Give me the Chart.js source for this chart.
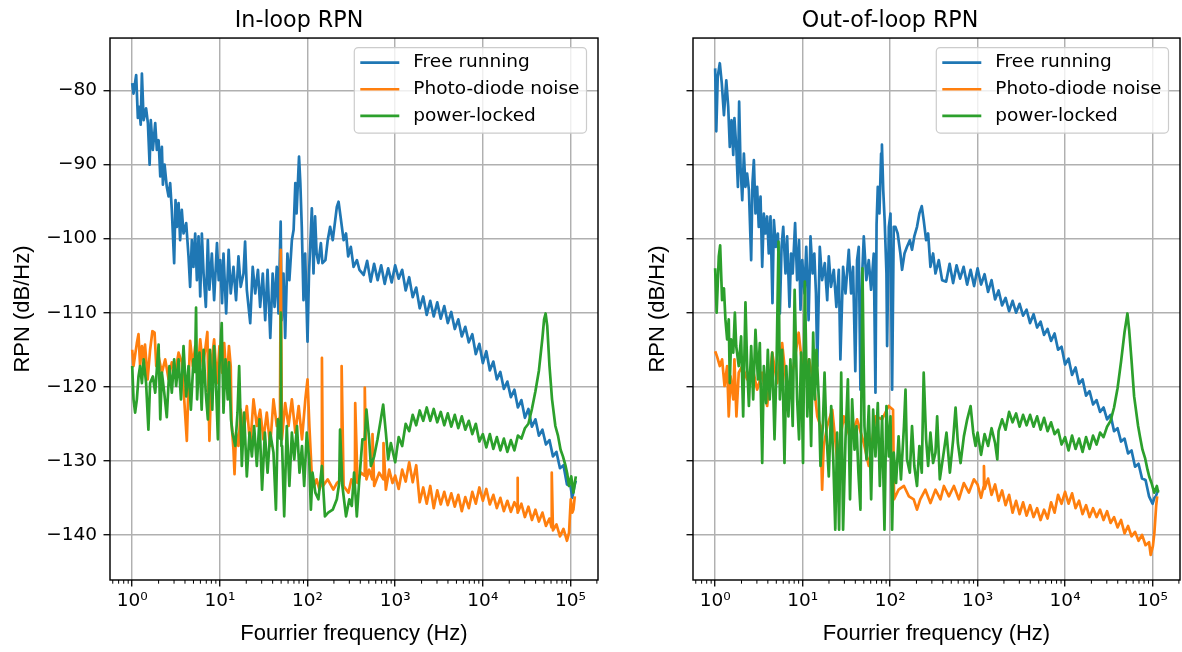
<!DOCTYPE html>
<html>
<head>
<meta charset="utf-8">
<script src="https://cdn.jsdelivr.net/npm/chart.js@4.4.0/dist/chart.umd.min.js"></script>
<style>
  body { margin: 0; background: #fff; }
  #wrap { position: relative; width: 1182px; height: 652px; }
  canvas { position: absolute; top: 0; }
</style>
</head>
<body>
<div id="wrap">
  <canvas id="inLoop" width="600" height="652" style="left:0"></canvas>
  <canvas id="outLoop" width="582" height="652" style="left:600px"></canvas>
</div>
<script>
// axis ranges and ticks
const xMin = 0.558, xMax = 2.06e5;
const yMin = -146.1, yMax = -72.9;
const xTickVals = [1, 10, 100, 1000, 10000, 100000];
const xTickLabels = ['10\u2070', '10\u00b9', '10\u00b2', '10\u00b3', '10\u2074', '10\u2075'];
const yTickVals = [-140, -130, -120, -110, -100, -90, -80];

const seriesNames = ['Free running', 'Photo-diode noise', 'power-locked'];
const seriesColors = ['#1f77b4', '#ff7f0e', '#2ca02c'];

// In-loop RPN  [frequency Hz, dB/Hz]
const inLoopFree = [[1,-79.0],[1.035,-80.4],[1.11,-77.9],[1.16,-83.7],[1.2,-82.2],[1.25,-84.6],[1.29,-77.7],[1.35,-84.0],[1.44,-82.4],[1.51,-84.4],[1.58,-90.0],[1.63,-84.0],[1.72,-88.0],[1.83,-84.4],[1.91,-88.0],[2.0,-86.7],[2.09,-91.6],[2.18,-87.6],[2.24,-92.7],[2.34,-90.0],[2.48,-93.0],[2.6,-94.3],[2.71,-92.5],[2.83,-96.1],[3.01,-103.3],[3.12,-94.8],[3.23,-98.4],[3.38,-95.2],[3.52,-100.2],[3.68,-96.1],[3.85,-99.3],[4.13,-97.9],[4.39,-102.4],[4.58,-106.5],[4.79,-100.2],[5.0,-103.8],[5.23,-99.3],[5.47,-105.6],[5.71,-99.7],[5.97,-107.8],[6.23,-99.3],[6.52,-104.7],[6.92,-109.2],[7.29,-100.2],[7.6,-106.9],[8.1,-102.0],[8.6,-108.3],[9.27,-100.6],[9.7,-105.6],[10.1,-102.9],[10.6,-108.7],[11.0,-102.0],[11.8,-110.1],[12.6,-101.5],[13.3,-107.4],[14.3,-103.8],[15.3,-108.3],[16.3,-102.4],[17.3,-106.5],[18.6,-104.7],[19.4,-100.4],[20.3,-106.9],[22.2,-111.4],[23.7,-103.8],[25.3,-107.4],[27.2,-104.2],[28.8,-109.2],[30.9,-104.7],[32.9,-111.0],[35.0,-104.2],[37.6,-113.4],[40.0,-104.7],[42.1,-109.2],[44.6,-103.8],[46.6,-110.1],[49.4,-97.7],[50.8,-111.0],[53.2,-104.7],[55.6,-113.4],[59.0,-102.0],[62.1,-105.6],[66.3,-100.2],[69.4,-98.8],[72.6,-92.5],[75.0,-96.6],[80,-88.9],[82.8,-92.5],[86.0,-98.4],[90.0,-108.3],[94.0,-102.0],[100,-113.9],[104,-104.7],[112,-95.9],[117,-104.7],[122,-97.0],[127,-102.0],[133,-103.3],[142,-100.6],[148,-103.3],[160,-102.9],[170,-100.2],[181,-98.4],[194,-100.2],[207,-97.5],[216,-95.7],[226,-95.0],[238,-97.0],[258,-100.2],[275,-99.3],[291,-102.4],[312,-101.1],[335,-103.8],[366,-102.9],[391,-104.2],[437,-104.9],[479,-103.0],[525,-105.8],[575,-103.4],[631,-105.6],[692,-103.6],[759,-106.1],[832,-104.0],[912,-105.9],[1000,-103.6],[1096,-105.4],[1202,-104.2],[1318,-107.0],[1445,-105.2],[1585,-107.9],[1738,-106.6],[1905,-109.4],[2089,-107.8],[2291,-110.3],[2512,-108.4],[2754,-110.5],[3020,-108.6],[3311,-110.8],[3631,-109.1],[3981,-111.4],[4365,-109.9],[4786,-112.2],[5248,-110.9],[5754,-113.2],[6310,-111.9],[6918,-114.0],[7586,-112.9],[8318,-115.6],[9120,-114.2],[10000,-116.8],[10960,-115.2],[12020,-117.8],[13180,-116.6],[14450,-119.0],[15850,-118.0],[17380,-120.3],[19050,-119.3],[20890,-121.4],[22910,-120.4],[25120,-122.8],[27540,-121.8],[30200,-124.2],[33110,-123.0],[36310,-125.4],[39810,-124.4],[43650,-126.6],[47860,-125.8],[52480,-127.8],[57540,-127.2],[63100,-129.4],[69180,-128.8],[75860,-131.0],[83180,-130.6],[91200,-133.2],[100000,-133.4],[105000,-135.0],[110000,-133.6],[115000,-132.7]];

const inLoopPd = [[1,-115],[1.035,-117.2],[1.13,-114.1],[1.18,-112.9],[1.23,-117.2],[1.29,-114.5],[1.35,-116.3],[1.4,-114.3],[1.5,-119],[1.6,-115],[1.7,-112.5],[1.8,-112.7],[1.88,-117.2],[2.0,-115.9],[2.18,-118.1],[2.38,-116.3],[2.6,-119],[2.83,-116.7],[3.1,-118.1],[3.38,-115.4],[3.68,-116.7],[3.92,-121.7],[4.2,-127.3],[4.39,-119.5],[4.58,-113.8],[4.92,-117.2],[5.23,-114.5],[5.55,-118.6],[5.97,-113.6],[6.4,-117.2],[6.8,-115],[7.2,-112.6],[7.6,-127.3],[8.1,-116.3],[8.6,-113.6],[9.27,-119.5],[9.9,-114.5],[10.6,-118.1],[11.2,-114.1],[12.0,-119.5],[12.7,-114.5],[13.3,-117.2],[13.6,-124.9],[14.3,-128.5],[14.7,-131.8],[15.3,-126.2],[16.3,-128],[17.3,-123.1],[18.6,-126.2],[20.3,-122.6],[22.2,-128],[24.2,-121.7],[26.4,-125.3],[28.8,-123.1],[31.4,-127.1],[34.3,-123.5],[37.5,-128],[40.9,-121.7],[44.6,-125.3],[48.5,-124],[49.5,-101.5],[51,-127.1],[55.6,-122.2],[60.7,-125.3],[66.3,-121.7],[72.6,-126.2],[79.3,-122.6],[86.5,-127.1],[94.4,-121.7],[100,-119],[105,-125.3],[112,-132.1],[119,-133.4],[127,-132.5],[137,-133.9],[144,-133],[146,-116.1],[150,-133.4],[170,-132.5],[197,-133.9],[216,-133],[243,-132.5],[245,-117.2],[258,-133.4],[293,-134.3],[317,-132.5],[347,-133],[350,-122.2],[372,-133],[406,-131.6],[447,-132],[450,-120.1],[470,-132.5],[505,-131.2],[548,-132.5],[551,-126.4],[576,-133.4],[657,-131.6],[733,-132.5],[736,-127.6],[783,-133.9],[854,-131.2],[932,-133],[1000,-132.0],[1096,-133.8],[1202,-131.2],[1318,-132.8],[1445,-130.2],[1585,-132.9],[1738,-130.6],[1905,-135.6],[2089,-133.6],[2291,-135.8],[2512,-133.4],[2754,-136.4],[3020,-134.0],[3311,-135.9],[3631,-134.2],[3981,-136.0],[4365,-134.4],[4786,-136.2],[5248,-134.6],[5754,-136.8],[6310,-134.9],[6918,-136.4],[7586,-134.2],[8318,-135.8],[9120,-133.6],[10000,-135.4],[10960,-133.8],[12020,-135.9],[13180,-134.6],[14450,-136.4],[15850,-135.0],[17380,-136.8],[19050,-135.4],[20890,-136.9],[22910,-135.6],[24700,-136.4],[24850,-132.3],[25120,-137.0],[27540,-135.8],[30200,-137.6],[33110,-136.2],[36310,-138.0],[39810,-136.6],[43650,-138.2],[47860,-137.0],[52480,-138.8],[57540,-137.8],[60800,-139.0],[61130,-131.6],[63100,-139.4],[69180,-138.6],[75860,-140.2],[83180,-139.2],[91200,-140.8],[96300,-139.7],[100700,-135.2],[105000,-137.0],[108000,-136.6],[112000,-134.8]];

const inLoopLock = [[1,-117.2],[1.035,-121.7],[1.08,-123.5],[1.13,-121.7],[1.18,-118.6],[1.23,-117.2],[1.29,-119.5],[1.35,-116.3],[1.44,-119.5],[1.53,-125.8],[1.6,-119.5],[1.72,-118.6],[1.83,-120.8],[2.0,-114.3],[2.09,-124.4],[2.18,-118.1],[2.32,-120.8],[2.48,-124.1],[2.66,-117.2],[2.83,-120.8],[3.01,-116.3],[3.17,-119.9],[3.38,-116.3],[3.6,-121.7],[3.85,-114.5],[4.13,-121.3],[4.39,-117.2],[4.67,-123.1],[5.0,-116.3],[5.2,-118],[5.35,-109.3],[5.5,-121.7],[5.85,-115.4],[6.2,-123.1],[6.52,-115],[6.9,-120.8],[7.3,-124.4],[7.7,-115],[8.2,-123.1],[8.6,-114.5],[9.1,-120.8],[9.5,-127.1],[9.9,-117.2],[10.5,-111.4],[11.0,-123.5],[11.6,-116.3],[12.3,-121.7],[12.7,-116.7],[13.4,-124.4],[13.9,-126.2],[15.0,-128],[15.9,-123.5],[16.6,-117.2],[17.8,-130.7],[18.9,-123.5],[20.3,-132.1],[21.8,-126.2],[23.2,-129.4],[24.6,-125.3],[26.4,-130.7],[28.3,-124.4],[30.3,-133.9],[32.6,-126.2],[35,-131.6],[37.5,-126.2],[40.9,-128.9],[43.6,-136.6],[45.9,-124.4],[48.8,-127],[49.6,-110],[50.4,-128],[51.3,-128],[54.2,-137.5],[58,-125.3],[62.1,-133.4],[66.3,-126.2],[70.6,-129.8],[75.9,-125.3],[81,-131.6],[86.5,-128],[91.6,-133.4],[98,-126.2],[104.5,-129.8],[109.2,-136.6],[114,-131.6],[122.8,-134.3],[133,-135.2],[146,-130.7],[158,-137.5],[172,-137],[194,-136.6],[216,-135.2],[230,-133],[235,-125.8],[250,-133.4],[275,-137.5],[300,-135.2],[320,-136.1],[340,-131.6],[365,-137.5],[390,-132.5],[423,-127.1],[450,-127.1],[470,-123.1],[505,-127.1],[528,-130.7],[576,-129.4],[629,-127.1],[686,-124.4],[730,-122.4],[783,-126.2],[832,-129.8],[893,-127.6],[1000,-130.2],[1096,-126.8],[1202,-128.0],[1318,-125.0],[1445,-126.0],[1585,-123.8],[1738,-125.2],[1905,-123.2],[2089,-124.6],[2291,-122.8],[2512,-124.6],[2754,-123.0],[3020,-124.8],[3311,-123.4],[3631,-125.2],[3981,-123.6],[4365,-125.4],[4786,-123.8],[5248,-125.6],[5754,-124.0],[6310,-125.8],[6918,-124.6],[7586,-126.4],[8318,-125.0],[9120,-127.4],[10000,-126.4],[10960,-128.2],[12020,-126.4],[13180,-128.4],[14450,-126.8],[15850,-128.6],[17380,-127.0],[19050,-128.8],[20890,-127.2],[22910,-128.6],[25120,-126.6],[27540,-127.0],[30200,-125.6],[33110,-125.0],[36310,-123.0],[39810,-120.6],[43650,-117.8],[47860,-113.4],[50000,-110.9],[52000,-110.1],[54300,-111.8],[57600,-117.2],[61600,-121.7],[67200,-125.3],[72000,-126.6],[77100,-128.5],[82000,-129.4],[87900,-130.7],[92000,-131.8],[96300,-133.4],[102000,-132.1],[108000,-134.3],[115000,-132.1]];

// Out-of-loop RPN
const outLoopFree = [[1,-77],[1.03,-85.5],[1.07,-78.1],[1.13,-76.3],[1.19,-79],[1.26,-83.3],[1.34,-78.6],[1.41,-82.2],[1.47,-87.6],[1.54,-84],[1.61,-88.7],[1.66,-83.7],[1.75,-88],[1.82,-93],[1.88,-81.5],[1.95,-90.3],[2.04,-94.8],[2.13,-88.5],[2.22,-93],[2.32,-91.2],[2.43,-93.4],[2.58,-102.9],[2.67,-92.5],[2.77,-89.4],[2.89,-96.6],[3.02,-93],[3.15,-98.4],[3.3,-94.3],[3.45,-103.8],[3.6,-96.6],[3.76,-99.3],[3.93,-97],[4.1,-102],[4.29,-97],[4.52,-108.7],[4.69,-97.5],[4.94,-101.1],[5.21,-99.3],[5.49,-110.1],[5.74,-101.1],[6.0,-98.4],[6.37,-104.7],[6.65,-99.7],[7.07,-109.2],[7.37,-102],[7.7,-104.7],[8.2,-97.9],[8.65,-105.6],[9.1,-100.2],[9.45,-109.6],[9.9,-102.9],[10.5,-107.4],[11.0,-101.1],[11.7,-111],[12.3,-99.7],[13.0,-104.7],[13.6,-102],[14.2,-107.4],[14.7,-117.2],[15.7,-101.1],[16.7,-105.6],[17.9,-103.3],[19.1,-108.3],[19.9,-102.4],[21.1,-106.5],[22.7,-104.2],[24.3,-109.2],[25.9,-104.2],[27,-116.3],[29,-103.8],[30.9,-107.4],[33.7,-101.5],[35.8,-107.4],[37.7,-103.8],[40,-117.9],[41.9,-102.9],[43.8,-101.1],[45.8,-120.4],[48,-104.7],[50,-99.7],[53.5,-105.6],[57,-102.9],[60.6,-106.9],[65,-102],[68,-120.8],[70,-98.1],[72.3,-93],[75.5,-96.6],[78.9,-88.5],[80.6,-87.3],[83.4,-93.4],[86.6,-97.5],[90.8,-104.7],[92.4,-114.5],[96.7,-98.4],[101,-96.6],[105.4,-120.4],[110,-98.4],[115,-98.4],[122,-99.3],[131,-102],[137,-104.2],[146,-102],[156,-101.1],[168,-100.2],[178,-101.5],[189,-99.7],[203,-98.4],[216,-96.6],[230,-95.6],[242,-97.5],[258,-100.2],[272,-99.3],[289,-103.8],[310,-102],[330,-104.7],[360,-102.9],[393,-105.6],[437,-105.8],[479,-103.4],[525,-106.0],[575,-103.6],[631,-105.4],[692,-103.8],[759,-106.2],[832,-104.2],[912,-106.4],[1000,-104.0],[1096,-106.2],[1202,-104.8],[1318,-107.2],[1445,-105.6],[1585,-108.2],[1738,-107.0],[1905,-109.0],[2089,-108.0],[2291,-109.8],[2512,-108.4],[2754,-110.0],[3020,-108.8],[3311,-110.4],[3631,-109.6],[3981,-111.4],[4365,-110.2],[4786,-112.0],[5248,-111.2],[5754,-113.0],[6310,-112.2],[6918,-113.8],[7586,-112.8],[8318,-115.0],[9120,-114.6],[10000,-117.0],[10960,-116.2],[12020,-118.4],[13180,-117.4],[14450,-119.6],[15850,-119.0],[17380,-121.2],[19050,-120.6],[20890,-122.4],[22910,-121.8],[25120,-123.4],[27540,-122.8],[30200,-124.4],[33110,-123.8],[36310,-126.0],[39810,-125.6],[43650,-127.4],[47860,-127.0],[52480,-129.0],[57540,-128.6],[63100,-130.8],[69180,-130.4],[75860,-132.4],[83180,-132.6],[91200,-134.8],[100000,-135.8],[105000,-135.0],[109000,-134.8],[116000,-133.9]];

const outLoopPd = [[1,-115.2],[1.05,-115.9],[1.13,-117.2],[1.2,-116.3],[1.28,-119.9],[1.37,-117.2],[1.43,-124],[1.5,-118.6],[1.61,-121.7],[1.66,-116.3],[1.75,-124],[1.86,-118.1],[2.04,-117.2],[2.32,-119],[2.65,-117.2],[3.02,-120.4],[3.45,-118.1],[3.93,-122.6],[4.49,-115.4],[5.11,-119.5],[5.83,-114.1],[6.65,-120.8],[7.9,-117.2],[9.0,-112.7],[10.3,-119],[11.8,-116.3],[13.4,-119.5],[14.7,-124],[16.0,-125.3],[16.7,-133.9],[17.4,-128],[19.1,-125.3],[21.8,-123.1],[24.8,-129.8],[29.5,-124],[35.2,-127.1],[41.9,-124.4],[50,-127.6],[57,-130.7],[68,-124],[80.9,-124.4],[96.2,-122.6],[108,-123.1],[111,-135.2],[125,-133.9],[144,-133.4],[164,-134.8],[186,-135.2],[203,-136.6],[221,-135.2],[253,-133.9],[289,-135.7],[330,-133.9],[376,-135.2],[412,-133.4],[470,-134.8],[536,-133.4],[611,-135.2],[697,-133],[796,-134.3],[908,-132.5],[1000,-133.2],[1096,-135.0],[1170,-133.5],[1182,-130.7],[1202,-133.8],[1318,-132.4],[1445,-134.6],[1585,-133.2],[1738,-135.4],[1905,-134.0],[2089,-136.0],[2291,-134.6],[2512,-137.0],[2754,-135.4],[3020,-137.2],[3311,-135.6],[3631,-137.4],[3981,-136.0],[4365,-137.6],[4786,-136.4],[5248,-138.0],[5754,-136.6],[6310,-137.8],[6918,-135.6],[7586,-137.0],[8318,-134.6],[9120,-135.8],[10000,-134.2],[10960,-135.8],[12020,-134.4],[13180,-136.4],[14450,-135.4],[15850,-137.2],[17380,-136.0],[19050,-137.6],[20890,-136.4],[22910,-137.6],[25120,-136.6],[27540,-138.0],[30200,-136.8],[33110,-138.4],[36310,-137.6],[39810,-139.0],[43650,-138.0],[47860,-139.8],[52480,-138.8],[57540,-140.2],[63100,-139.6],[69180,-140.8],[75860,-140.0],[83180,-141.4],[91200,-141.0],[95200,-142.7],[101000,-141.5],[105000,-139.7],[110000,-136.1],[113000,-134.8]];

const outLoopLock = [[1,-104],[1.04,-110],[1.1,-102.4],[1.14,-100.9],[1.2,-108.3],[1.26,-106.7],[1.31,-110.9],[1.37,-113.6],[1.43,-110.9],[1.47,-119.5],[1.52,-113.6],[1.61,-115.4],[1.68,-110],[1.74,-114.5],[1.86,-117.2],[1.98,-113.2],[2.09,-124],[2.22,-108.6],[2.32,-117.2],[2.43,-122.6],[2.58,-114.5],[2.72,-121.7],[2.89,-112.3],[3.08,-119],[3.24,-114.1],[3.45,-130.3],[3.6,-117.2],[3.83,-122.2],[4.0,-115],[4.2,-121.7],[4.49,-115.4],[4.77,-127.1],[5.03,-117.2],[5.3,-100.4],[5.49,-121.7],[5.83,-115],[6.2,-130.3],[6.5,-117.2],[6.88,-124],[7.25,-116.3],[7.7,-125.3],[8.1,-106.9],[8.65,-121.7],[9.1,-127.1],[9.6,-115.4],[10.1,-130.3],[10.6,-105.8],[11.3,-124],[11.9,-116.3],[12.5,-128],[13.2,-112.7],[13.8,-121.7],[14.4,-115],[15.3,-121.7],[16,-130.7],[17,-125.3],[17.8,-118.1],[18.7,-126.2],[19.9,-132.1],[21.2,-122.6],[22.4,-129.8],[23.6,-139.3],[24.8,-126.2],[26.1,-139.3],[27.6,-118.1],[29,-139.3],[30.9,-127.1],[32.9,-119],[34.8,-135.2],[36.8,-121.7],[39.2,-128.5],[41.3,-125.3],[43.4,-131.6],[45.8,-136.6],[48.3,-104],[50.9,-125.3],[53.7,-129.8],[57.1,-122.6],[60.7,-135.2],[64,-123.1],[68,-129.4],[72.3,-122.2],[76.3,-133.4],[81,-124],[86.2,-139.3],[90.8,-122.6],[96.7,-129.4],[101,-124],[105.4,-139.3],[110,-128.9],[117,-133],[125,-126.7],[133,-132.5],[144,-125.3],[150,-120.4],[156,-129.8],[168,-131.6],[178,-125.3],[189,-130.7],[203,-133.4],[216,-128],[230,-131.6],[242,-118.1],[258,-127.1],[272,-130.7],[289,-126.2],[310,-130.3],[330,-128.9],[345,-124],[370,-132.5],[404,-129.4],[441,-126.2],[482,-131.6],[526,-127.1],[560,-122.8],[595,-127.6],[639,-130.3],[697,-126.7],[761,-124.4],[832,-122.6],[892,-126.2],[948,-128],[1000,-126.2],[1096,-129.2],[1202,-126.4],[1318,-128.0],[1445,-125.6],[1585,-127.6],[1680,-129.8],[1738,-126.0],[1905,-124.4],[2089,-125.8],[2291,-123.4],[2512,-124.8],[2754,-123.6],[3020,-125.4],[3311,-123.8],[3631,-125.2],[3981,-123.8],[4365,-125.4],[4786,-124.0],[5248,-125.8],[5754,-124.2],[6310,-126.0],[6918,-124.8],[7586,-126.4],[8318,-125.8],[9120,-127.8],[10000,-126.8],[10960,-128.6],[12020,-126.6],[13180,-128.4],[14450,-127.0],[15850,-128.8],[17380,-126.8],[19050,-128.4],[20890,-126.6],[22910,-127.8],[25120,-126.2],[27540,-126.8],[30200,-125.4],[33110,-124.6],[36310,-122.8],[39810,-120.2],[43650,-116.6],[47860,-112.6],[51620,-110.1],[54000,-112.3],[57400,-116.3],[61600,-121.3],[68400,-125.3],[72000,-126.8],[76700,-128.5],[82000,-129.6],[87600,-131.2],[92000,-132.2],[97400,-133],[104500,-134.3],[112000,-133.4],[116000,-134.3]];

Chart.defaults.font.family = "'DejaVu Sans', sans-serif";
Chart.defaults.color = '#000';

// minor log ticks 2..9 x 10^k
const xMinorVals = [];
for (let d = -1; d <= 5; d++) {
  for (let k = 2; k <= 9; k++) xMinorVals.push(k * Math.pow(10, d));
}

// frame, minor ticks and the legend box (matplotlib style)
const decor = {
  id: 'decor',
  afterDraw(chart) {
    const ctx = chart.ctx, a = chart.chartArea, xs = chart.scales.x;
    ctx.save();
    ctx.strokeStyle = '#000';
    ctx.lineWidth = 1;
    xMinorVals.forEach(v => {
      const px = xs.getPixelForValue(v);
      if (px < a.left || px > a.right) return;
      ctx.beginPath();
      ctx.moveTo(px, a.bottom);
      ctx.lineTo(px, a.bottom + 3.7);
      ctx.stroke();
    });
    ctx.lineWidth = 1.45;
    ctx.strokeRect(a.left, a.top, a.right - a.left, a.bottom - a.top);

    // legend
    ctx.font = "18.5px 'DejaVu Sans'";
    const sets = chart.data.datasets;
    let tw = 0;
    sets.forEach(d => { tw = Math.max(tw, ctx.measureText(d.label).width); });
    const w = 6 + 39 + 14 + tw + 7;
    const right = a.right - 11.5, top = a.top + 9.5, h = 85.5;
    const left = right - w;
    ctx.beginPath();
    ctx.roundRect(left, top, w, h, 4);
    ctx.fillStyle = 'rgba(255,255,255,0.8)';
    ctx.fill();
    ctx.strokeStyle = '#cccccc';
    ctx.lineWidth = 1.2;
    ctx.stroke();
    sets.forEach((d, i) => {
      const y = top + 15 + i * 26.7;
      ctx.strokeStyle = d.borderColor;
      ctx.lineWidth = 2.7;
      ctx.beginPath();
      ctx.moveTo(left + 6, y);
      ctx.lineTo(left + 45, y);
      ctx.stroke();
      ctx.fillStyle = '#000';
      ctx.textBaseline = 'middle';
      ctx.fillText(d.label, left + 59, y);
    });
    ctx.restore();
  }
};

function toPoints(pairs) {
  return pairs.map(p => ({x: p[0], y: p[1]}));
}

function makeChart(id, title, series, yWidth, yTitlePad, showYLabels) {
  const grid = {color: '#b0b0b0', lineWidth: 1.45, tickColor: '#000', tickLength: 6.5, tickWidth: 1.3};
  return new Chart(document.getElementById(id), {
    type: 'line',
    data: {
      datasets: series.map((s, i) => ({
        label: seriesNames[i],
        data: toPoints(s),
        borderColor: seriesColors[i],
        backgroundColor: seriesColors[i],
        borderWidth: 2.7,
        borderJoinStyle: 'round',
        pointRadius: 0,
        tension: 0,
        fill: false,
        order: 3 - i
      }))
    },
    options: {
      responsive: false,
      animation: false,
      layout: {padding: {left: 0, right: 2, top: 0, bottom: 0}},
      plugins: {
        legend: {display: false},
        tooltip: {enabled: false},
        title: {
          display: true,
          text: title,
          font: {size: 22.2, weight: 'normal'},
          padding: {top: 7.5, bottom: 3.9}
        }
      },
      scales: {
        x: {
          type: 'logarithmic',
          min: xMin,
          max: xMax,
          afterBuildTicks: s => { s.ticks = xTickVals.map(v => ({value: v})); },
          afterFit: s => { s.height = 72; },
          grid: grid,
          border: {display: false},
          ticks: {
            autoSkip: false,
            maxRotation: 0,
            padding: 4,
            font: {size: 18.5},
            callback: (v, i) => xTickLabels[i]
          },
          title: {
            display: true,
            text: 'Fourrier frequency (Hz)',
            font: {family: "'Liberation Sans'", size: 22},
            padding: {top: 0, bottom: 5}
          }
        },
        y: {
          type: 'linear',
          min: yMin,
          max: yMax,
          afterBuildTicks: s => { s.ticks = yTickVals.map(v => ({value: v})); },
          afterFit: s => { s.width = yWidth; },
          grid: grid,
          border: {display: false},
          ticks: {
            display: showYLabels,
            padding: 6.5,
            font: {size: 18.5},
            callback: v => v < 0 ? '\u2212' + Math.abs(v) : String(v)
          },
          title: {
            display: true,
            text: 'RPN (dB/Hz)',
            font: {family: "'Liberation Sans'", size: 22},
            padding: {top: yTitlePad, bottom: 0}
          }
        }
      }
    },
    plugins: [decor]
  });
}

makeChart('inLoop', 'In-loop RPN', [inLoopFree, inLoopPd, inLoopLock], 110, 9.7, true);
makeChart('outLoop', 'Out-of-loop RPN', [outLoopFree, outLoopPd, outLoopLock], 93, 44.8, false);
</script>
</body>
</html>
